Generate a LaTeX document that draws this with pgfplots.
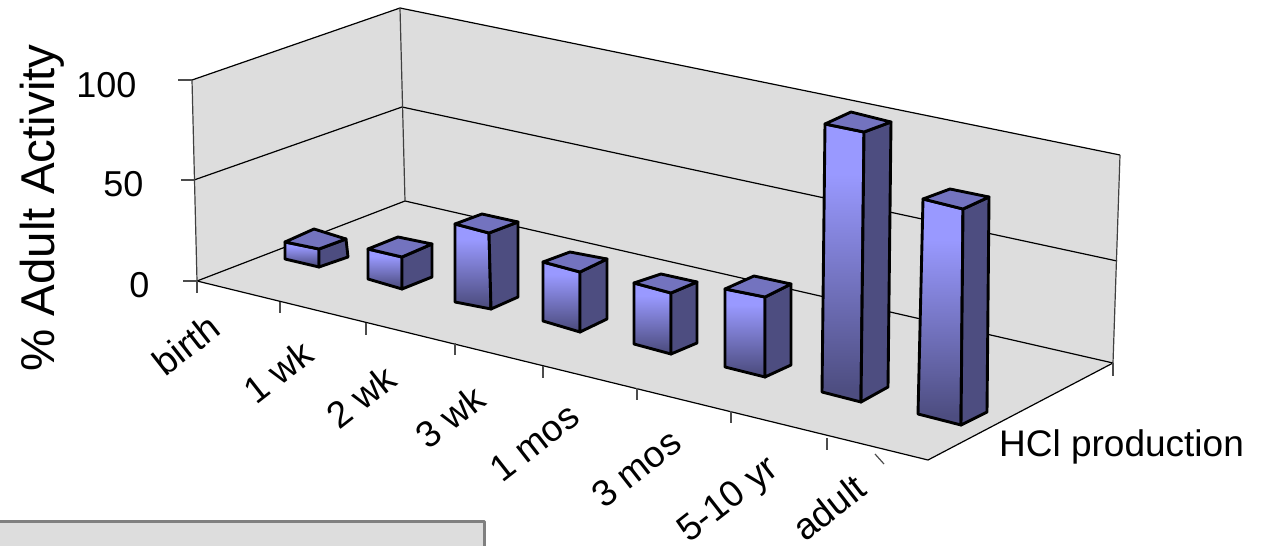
\documentclass[border=0pt]{standalone}
\usepackage{pgfplots}
\pgfplotsset{compat=1.18}
\usepackage{fontspec}
\setmainfont{Liberation Sans}

\definecolor{wallgray}{HTML}{DDDDDD}
\definecolor{barlight}{HTML}{9999FF}
\definecolor{bardark}{HTML}{4D4D80}
\definecolor{bartop}{HTML}{7373BF}
\definecolor{panelrule}{HTML}{808080}

% Front faces fade from light at the top to dark at the foot.
\pgfdeclareverticalshading{barfront}{100bp}{%
  color(0bp)=(bardark); color(27bp)=(bardark);
  color(66bp)=(barlight); color(100bp)=(barlight)}

\tikzset{
  wall/.style={fill=wallgray, draw=none},
  edge/.style={black, line width=1.2pt},
  post/.style={black!75, line width=1.2pt},
  tickline/.style={black!70, line width=1.2pt},
  front/.style={draw=black, line width=2.9pt, shading=barfront},
  side/.style={draw=black, line width=2.9pt, fill=bardark},
  roof/.style={draw=black, line width=2.9pt, fill=bartop},
  lbl/.style={font=\fontsize{36}{40}\selectfont, black},
  cat/.style={font=\fontsize{37}{40}\selectfont, black, rotate=38, text height=26pt, text depth=0pt, inner sep=0pt},
}

\begin{document}
\begin{tikzpicture}
\path[use as bounding box] (0,0) rectangle (1270pt,546pt);
\begin{axis}[
  at={(0,0)}, anchor=south west,
  scale only axis, width=1270pt, height=546pt,
  xmin=0, xmax=1270, ymin=0, ymax=546, y dir=reverse,
  axis lines=none,
  every axis plot/.append style={line join=round},
]
% Chart area walls and floor
\addplot[wall] coordinates {(192,80) (400,8) (405,201) (197,281)} --cycle;
\addplot[wall] coordinates {(400,8) (1120,155) (1113,363) (405,201)} --cycle;
\addplot[wall] coordinates {(197,281) (405,201) (1113,363) (928,460)} --cycle;

% Gridlines at 0, 50 and 100
\addplot[edge] coordinates {(192,80) (400,8) (1120,155)};
\addplot[edge] coordinates {(194,180) (402,107) (1117,261)};
\addplot[edge] coordinates {(197,281) (405,201) (1113,363)};
\addplot[edge] coordinates {(197,281) (928,460) (1113,363)};

% Wall corners
\addplot[post] coordinates {(192,80) (197,281)};
\addplot[post] coordinates {(400,8) (405,201)};
\addplot[post] coordinates {(1120,155) (1113,363)};

% Value axis ticks
\addplot[tickline] coordinates {(178,80) (192,80)};
\addplot[tickline] coordinates {(181,180) (194,180)};
\addplot[tickline] coordinates {(183,281) (197,281)};

% Category axis ticks
\addplot[tickline] coordinates {(197,281) (197,293)};
\addplot[tickline] coordinates {(280,302) (280,313)};
\addplot[tickline] coordinates {(366,323) (366,335)};
\addplot[tickline] coordinates {(455,343) (455,355)};
\addplot[tickline] coordinates {(543,366) (543,378)};
\addplot[tickline] coordinates {(637,388) (637,400)};
\addplot[tickline] coordinates {(731,411) (731,423)};
\addplot[tickline] coordinates {(827,438) (827,450)};
\addplot[tickline] coordinates {(875,454) (884,464)};
\addplot[tickline] coordinates {(1113,363) (1113,376)};

% birth
\addplot[front] coordinates {(285,242) (319,249) (319,267) (285,259)} --cycle;
\addplot[side]  coordinates {(319,249) (346,239) (348,257) (319,267)} --cycle;
\addplot[roof]  coordinates {(285,242) (314,229) (346,239) (319,249)} --cycle;
% 1 wk
\addplot[front] coordinates {(368,249) (402,257) (402,289) (368,279)} --cycle;
\addplot[side]  coordinates {(402,257) (432,244) (432,277) (402,289)} --cycle;
\addplot[roof]  coordinates {(368,249) (398,237) (432,244) (402,257)} --cycle;
% 2 wk
\addplot[front] coordinates {(455,224) (489,233) (491,309) (455,302)} --cycle;
\addplot[side]  coordinates {(489,233) (518,222) (518,297) (491,309)} --cycle;
\addplot[roof]  coordinates {(455,224) (482,214) (518,222) (489,233)} --cycle;
% 3 wk
\addplot[front] coordinates {(543,262) (580,272) (580,332) (543,321)} --cycle;
\addplot[side]  coordinates {(580,272) (607,259) (607,319) (580,332)} --cycle;
\addplot[roof]  coordinates {(543,262) (570,252) (607,259) (580,272)} --cycle;
% 1 mos
\addplot[front] coordinates {(634,283) (671,293) (671,354) (634,344)} --cycle;
\addplot[side]  coordinates {(671,293) (697,282) (697,343) (671,354)} --cycle;
\addplot[roof]  coordinates {(634,283) (661,274) (697,282) (671,293)} --cycle;
% 3 mos
\addplot[front] coordinates {(725,289) (765,297) (765,377) (725,367)} --cycle;
\addplot[side]  coordinates {(765,297) (791,284) (791,365) (765,377)} --cycle;
\addplot[roof]  coordinates {(725,289) (754,276) (791,284) (765,297)} --cycle;
% 5-10 yr
\addplot[front] coordinates {(825,124) (864,132) (861,402) (822,392)} --cycle;
\addplot[side]  coordinates {(864,132) (891,122) (888,387) (861,402)} --cycle;
\addplot[roof]  coordinates {(825,124) (851,112) (891,122) (864,132)} --cycle;
% adult
\addplot[front] coordinates {(923,199) (963,209) (961,425) (918,414)} --cycle;
\addplot[side]  coordinates {(963,209) (989,197) (987,412) (961,425)} --cycle;
\addplot[roof]  coordinates {(923,199) (950,189) (989,197) (963,209)} --cycle;

% Panel cut off by the lower edge
\addplot[fill=wallgray, draw=panelrule, line width=3pt]
  coordinates {(-5,521.5) (484,521.5) (484,560) (-5,560)} --cycle;

% Value axis labels
\node[lbl, anchor=east] at (axis cs:140,85) {100};
\node[lbl, anchor=east] at (axis cs:147,184) {50};
\node[lbl, anchor=east] at (axis cs:153,285) {0};
\node[font=\fontsize{47.5}{50}\selectfont, rotate=90] at (axis cs:42,208) {\% Adult Activity};

% Category labels
\node[cat] at (axis cs:186,345) {birth};
\node[cat] at (axis cs:278,372) {1 wk};
\node[cat] at (axis cs:361,397) {2 wk};
\node[cat] at (axis cs:450,417) {3 wk};
\node[cat] at (axis cs:534,442) {1 mos};
\node[cat] at (axis cs:636,468) {3 mos};
\node[cat] at (axis cs:727,498) {5-10 yr};
\node[cat] at (axis cs:829,508) {adult};

% Series label
\node[font=\fontsize{37}{40}\selectfont, anchor=west, inner sep=0pt] at (axis cs:999,447) {HCl production};
\end{axis}
\end{tikzpicture}
\end{document}
